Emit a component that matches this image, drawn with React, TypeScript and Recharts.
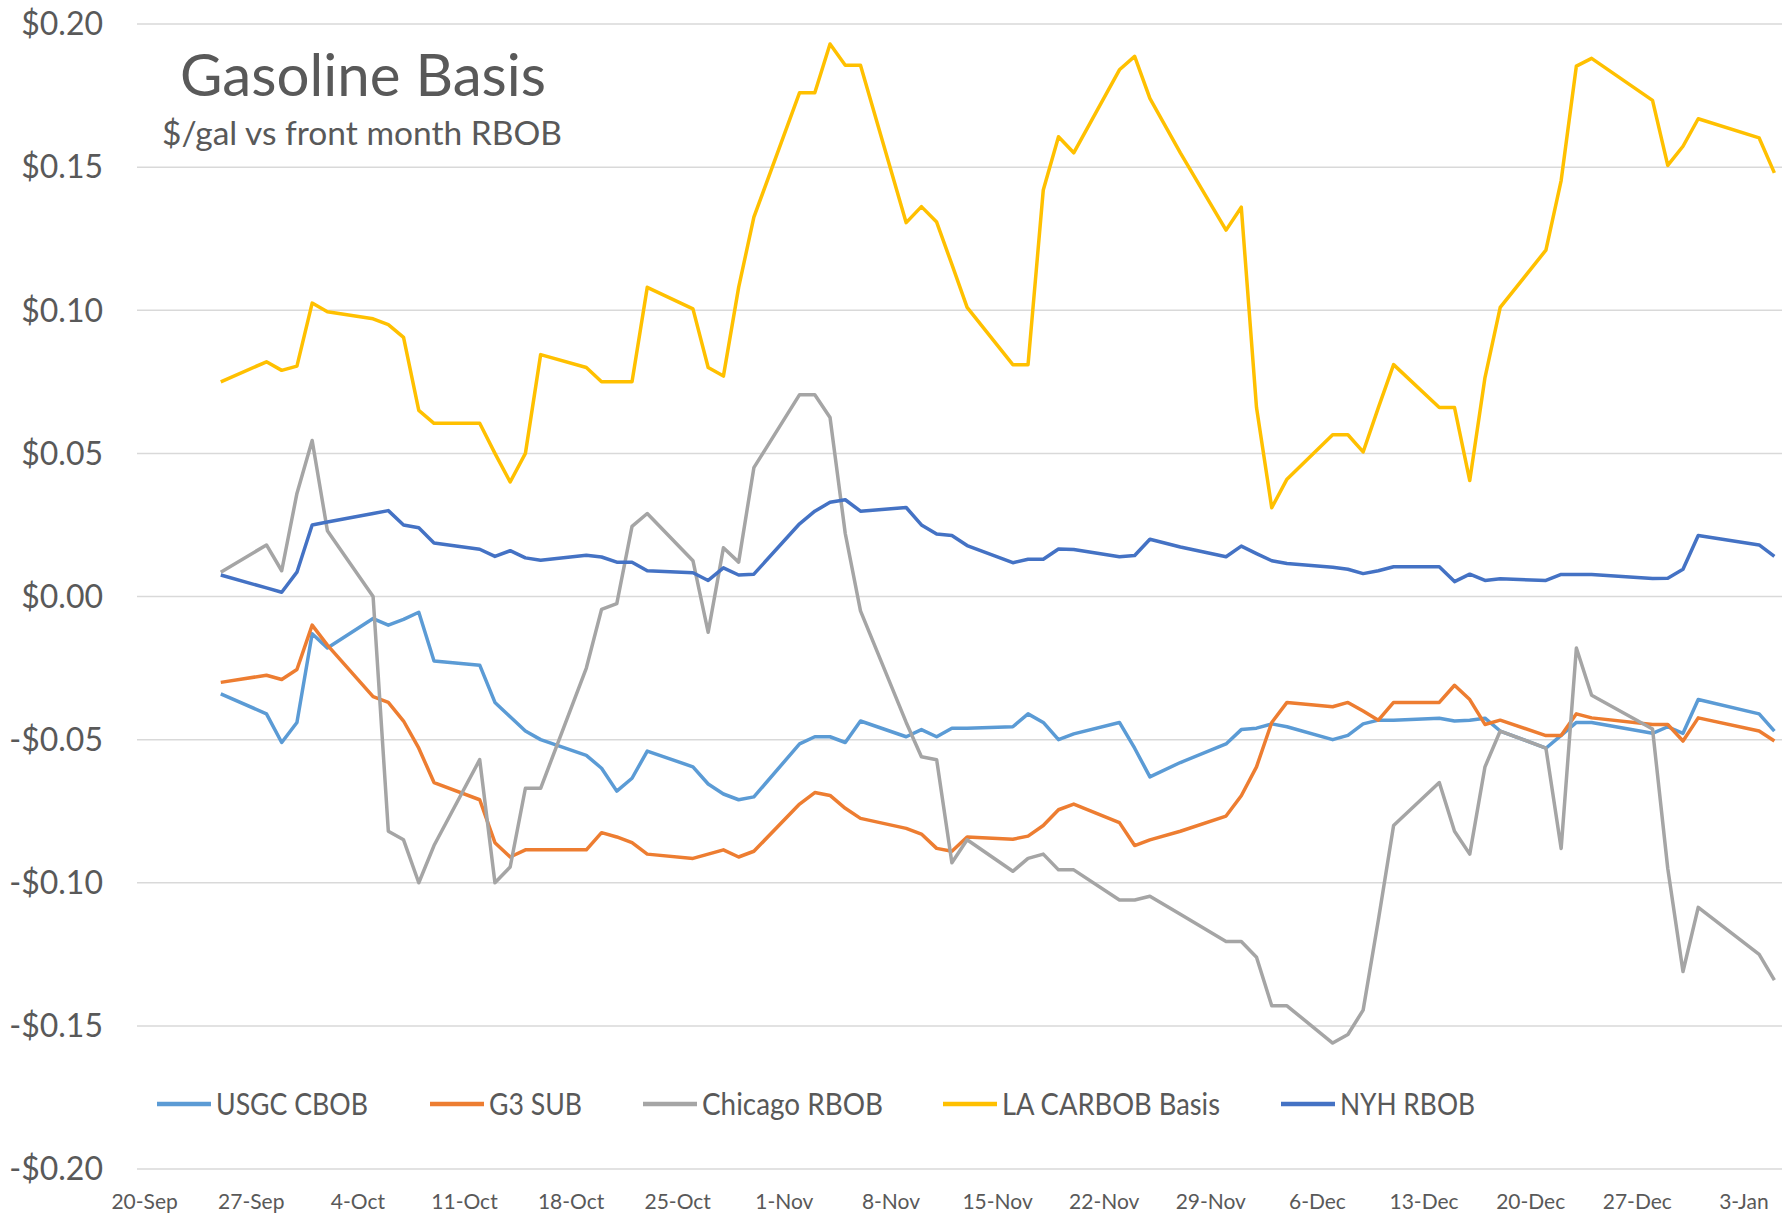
import React from 'react';
import { LineChart, Line, XAxis, YAxis, CartesianGrid } from 'recharts';

// ---- data ----
const START_DATE = '2020-09-20';

const dates = [
  '2020-09-25',
  '2020-09-28', '2020-09-29', '2020-09-30', '2020-10-01', '2020-10-02',
  '2020-10-05', '2020-10-06', '2020-10-07', '2020-10-08', '2020-10-09',
  '2020-10-12', '2020-10-13', '2020-10-14', '2020-10-15', '2020-10-16',
  '2020-10-19', '2020-10-20', '2020-10-21', '2020-10-22', '2020-10-23',
  '2020-10-26', '2020-10-27', '2020-10-28', '2020-10-29', '2020-10-30',
  '2020-11-02', '2020-11-03', '2020-11-04', '2020-11-05', '2020-11-06',
  '2020-11-09', '2020-11-10', '2020-11-11', '2020-11-12', '2020-11-13',
  '2020-11-16', '2020-11-17', '2020-11-18', '2020-11-19', '2020-11-20',
  '2020-11-23', '2020-11-24', '2020-11-25', '2020-11-27',
  '2020-11-30', '2020-12-01', '2020-12-02', '2020-12-03', '2020-12-04',
  '2020-12-07', '2020-12-08', '2020-12-09', '2020-12-10', '2020-12-11',
  '2020-12-14', '2020-12-15', '2020-12-16', '2020-12-17', '2020-12-18',
  '2020-12-21', '2020-12-22', '2020-12-23', '2020-12-24',
  '2020-12-28', '2020-12-29', '2020-12-30', '2020-12-31',
  '2021-01-04', '2021-01-05',
];

const usgcCbob = [
  -0.034,
  -0.041, -0.051, -0.044, -0.013, -0.018,
  -0.0077, -0.010, -0.008, -0.0055, -0.0225,
  -0.024, -0.037, -0.042, -0.047, -0.050,
  -0.0555, -0.060, -0.068, -0.0635, -0.054,
  -0.0595, -0.0655, -0.069, -0.071, -0.070,
  -0.0515, -0.049, -0.049, -0.051, -0.0435,
  -0.049, -0.0465, -0.049, -0.046, -0.046,
  -0.0455, -0.041, -0.044, -0.050, -0.048,
  -0.044, -0.053, -0.063, -0.058,
  -0.0515, -0.0465, -0.046, -0.0445, -0.0455,
  -0.050, -0.0485, -0.0445, -0.0432, -0.0432,
  -0.0425, -0.0435, -0.0432, -0.0425, -0.047,
  -0.053, -0.0485, -0.044, -0.044,
  -0.0478, -0.0455, -0.0478, -0.036,
  -0.041, -0.047,
];

const g3Sub = [
  -0.030,
  -0.0275, -0.029, -0.0255, -0.010, -0.017,
  -0.035, -0.037, -0.0435, -0.053, -0.065,
  -0.071, -0.086, -0.091, -0.0885, -0.0885,
  -0.0885, -0.0825, -0.084, -0.086, -0.090,
  -0.0915, -0.090, -0.0885, -0.091, -0.089,
  -0.0725, -0.0685, -0.0695, -0.074, -0.0775,
  -0.081, -0.083, -0.088, -0.089, -0.084,
  -0.0848, -0.0837, -0.080, -0.0745, -0.0725,
  -0.079, -0.087, -0.085, -0.082,
  -0.0767, -0.0696, -0.0595, -0.044, -0.037,
  -0.0385, -0.037, -0.040, -0.0432, -0.037,
  -0.037, -0.031, -0.036, -0.0447, -0.0432,
  -0.0486, -0.0486, -0.041, -0.0424,
  -0.0447, -0.0447, -0.0505, -0.0424,
  -0.047, -0.0505,
];

const chicagoRbob = [
  0.0085,
  0.018, 0.009, 0.036, 0.0545, 0.023,
  0.000, -0.082, -0.085, -0.100, -0.087,
  -0.057, -0.100, -0.0945, -0.067, -0.067,
  -0.025, -0.0045, -0.0025, 0.0245, 0.029,
  0.0125, -0.0125, 0.017, 0.012, 0.045,
  0.0705, 0.0705, 0.0625, 0.022, -0.005,
  -0.044, -0.056, -0.057, -0.093, -0.085,
  -0.096, -0.0915, -0.090, -0.0955, -0.0955,
  -0.106, -0.106, -0.1047, -0.111,
  -0.1205, -0.1205, -0.126, -0.143, -0.143,
  -0.156, -0.153, -0.1445, -0.113, -0.080,
  -0.065, -0.082, -0.090, -0.0595, -0.047,
  -0.053, -0.088, -0.018, -0.0345,
  -0.0463, -0.095, -0.131, -0.1086,
  -0.125, -0.134,
];

const laCarbobBasis = [
  0.075,
  0.082, 0.079, 0.0805, 0.1025, 0.0995,
  0.097, 0.095, 0.0905, 0.065, 0.0605,
  0.0605, 0.050, 0.040, 0.050, 0.0845,
  0.080, 0.075, 0.075, 0.075, 0.108,
  0.1005, 0.080, 0.077, 0.108, 0.1325,
  0.176, 0.176, 0.193, 0.1856, 0.1856,
  0.1306, 0.1362, 0.1308, 0.116, 0.101,
  0.081, 0.081, 0.142, 0.1606, 0.155,
  0.184, 0.1887, 0.174, 0.155,
  0.128, 0.136, 0.066, 0.031, 0.041,
  0.0565, 0.0565, 0.0505, 0.066, 0.081,
  0.066, 0.066, 0.0405, 0.0765, 0.101,
  0.121, 0.1453, 0.1853, 0.188,
  0.1733, 0.1506, 0.1573, 0.1669,
  0.1602, 0.148,
];

const nyhRbob = [
  0.0075,
  0.003, 0.0015, 0.0085, 0.025, 0.026,
  0.029, 0.030, 0.025, 0.024, 0.0187,
  0.0165, 0.014, 0.016, 0.0135, 0.0127,
  0.0144, 0.0138, 0.012, 0.012, 0.009,
  0.0083, 0.0056, 0.010, 0.0075, 0.0078,
  0.0254, 0.0298, 0.0329, 0.0338, 0.0298,
  0.0311, 0.025, 0.0218, 0.0213, 0.0178,
  0.0118, 0.013, 0.013, 0.0166, 0.0164,
  0.0139, 0.0143, 0.020, 0.0173,
  0.0139, 0.0176, 0.015, 0.0125, 0.0115,
  0.0102, 0.0095, 0.008, 0.009, 0.0104,
  0.0104, 0.0052, 0.0078, 0.0056, 0.0062,
  0.0056, 0.0077, 0.0077, 0.0077,
  0.0063, 0.0064, 0.0095, 0.0213,
  0.018, 0.014,
];

const xTickLabels = [
  '20-Sep', '27-Sep', '4-Oct', '11-Oct', '18-Oct', '25-Oct', '1-Nov', '8-Nov',
  '15-Nov', '22-Nov', '29-Nov', '6-Dec', '13-Dec', '20-Dec', '27-Dec', '3-Jan',
];
const yTicks = [-0.2, -0.15, -0.1, -0.05, 0, 0.05, 0.1, 0.15, 0.2];

const seriesNames = ['USGC CBOB', 'G3 SUB', 'Chicago RBOB', 'LA CARBOB Basis', 'NYH RBOB'];
const seriesColors = ['#5B9BD5', '#ED7D31', '#A5A5A5', '#FFC000', '#4472C4'];
const seriesValues = [usgcCbob, g3Sub, chicagoRbob, laCarbobBasis, nyhRbob];

const titleText = 'Gasoline Basis';
const subtitleText = '$/gal vs front month RBOB';

// ---- derived table ----
const toUtc = (s: string) => {
  const [y, m, d] = s.split('-').map(Number);
  return Date.UTC(y, m - 1, d);
};
const startUtc = toUtc(START_DATE);
const keys = seriesNames.map((_, i) => 's' + i);
const data = dates.map((d, i) => {
  const row: Record<string, number> = { day: (toUtc(d) - startUtc) / 86400000 };
  keys.forEach((k, j) => {
    row[k] = seriesValues[j][i];
  });
  return row;
});
const xTicks = xTickLabels.map((_, i) => i * 7);

const fmtDollar = (v: number) => (v < 0 ? '-' : '') + '$' + Math.abs(v).toFixed(2);

const W = 1785;
const H = 1216;
const FONT = 'Lato, "Open Sans", sans-serif';
const TEXT = '#595959';

// legend layout (x of sample line start, text width)
const legendSlots = [
  { x: 157, tw: 152 },
  { x: 430, tw: 93 },
  { x: 643, tw: 181 },
  { x: 943, tw: 218 },
  { x: 1281, tw: 135 },
];

export default function App() {
  return (
    <div style={{ position: 'absolute', left: 0, top: 0, width: W, height: H, background: '#fff' }}>
      <LineChart width={W} height={H} data={data} margin={{ top: 24, right: 3, bottom: 0, left: 0 }}>
        <CartesianGrid vertical={false} stroke="#D9D9D9" strokeWidth={1.5} />
        <XAxis
          type="number"
          dataKey="day"
          domain={[-0.5, 107.5]}
          ticks={xTicks}
          interval={0}
          tickFormatter={(v: number) => xTickLabels[Math.round(v / 7)]}
          axisLine={false}
          tickLine={false}
          tickSize={0}
          tickMargin={25}
          height={47}
          tick={{ fill: TEXT, fontSize: 21, fontFamily: FONT }}
          allowDataOverflow
        />
        <YAxis
          type="number"
          domain={[-0.2, 0.2]}
          ticks={yTicks}
          interval={0}
          tickFormatter={fmtDollar}
          axisLine={false}
          tickLine={false}
          tickSize={0}
          tickMargin={34}
          width={137}
          tick={{ fill: TEXT, fontSize: 32, fontFamily: FONT }}
          allowDataOverflow
        />
        {keys.map((k, i) => (
          <Line
            key={k}
            type="linear"
            dataKey={k}
            name={seriesNames[i]}
            stroke={seriesColors[i]}
            strokeWidth={3.5}
            dot={false}
            isAnimationActive={false}
            strokeLinejoin="round"
          />
        ))}
      </LineChart>
      <svg
        width={W}
        height={H}
        style={{ position: 'absolute', left: 0, top: 0, pointerEvents: 'none' }}
      >
        <text x={180} y={96} fontSize={58} fontFamily={FONT} fill={TEXT} textLength={366} lengthAdjust="spacingAndGlyphs">
          {titleText}
        </text>
        <text x={162} y={145} fontSize={33} fontFamily={FONT} fill={TEXT} textLength={400} lengthAdjust="spacingAndGlyphs">
          {subtitleText}
        </text>
        {seriesNames.map((n, i) => (
          <g key={n}>
            <line
              x1={legendSlots[i].x}
              x2={legendSlots[i].x + 54}
              y1={1104}
              y2={1104}
              stroke={seriesColors[i]}
              strokeWidth={4.5}
            />
            <text
              x={legendSlots[i].x + 59}
              y={1115}
              fontSize={31}
              fontFamily={FONT}
              fill={TEXT}
              textLength={legendSlots[i].tw}
              lengthAdjust="spacingAndGlyphs"
            >
              {n}
            </text>
          </g>
        ))}
      </svg>
    </div>
  );
}
